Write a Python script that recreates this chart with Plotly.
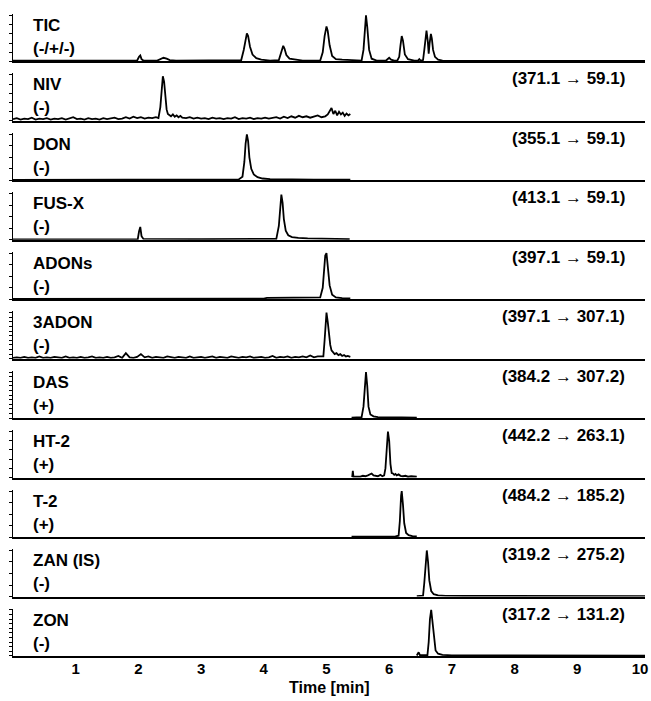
import plotly.graph_objects as go
from plotly.subplots import make_subplots

# ---------------- data ----------------
NAMES = ["TIC", "NIV", "DON", "FUS-X", "ADONs", "3ADON", "DAS", "HT-2", "T-2", "ZAN (IS)", "ZON"]
MODES = ["(-/+/-)", "(-)", "(-)", "(-)", "(-)", "(-)", "(+)", "(+)", "(+)", "(-)", "(-)"]
TRANSITIONS = ["", "(371.1 \u2192 59.1)", "(355.1 \u2192 59.1)", "(413.1 \u2192 59.1)",
               "(397.1 \u2192 59.1)", "(397.1 \u2192 307.1)", "(384.2 \u2192 307.2)",
               "(442.2 \u2192 263.1)", "(484.2 \u2192 185.2)", "(319.2 \u2192 275.2)",
               "(317.2 \u2192 131.2)"]
X_TICKS = [1, 2, 3, 4, 5, 6, 7, 8, 9, 10]

TIC_T = [0.00, 0.50, 1.00, 1.50, 1.98, 2.01, 2.03, 2.05, 2.08, 2.30, 2.36, 2.40, 2.45, 2.50,
         2.60, 3.00, 3.50, 3.64, 3.68, 3.71, 3.73, 3.75, 3.78, 3.82, 3.88, 3.96, 4.10, 4.24,
         4.27, 4.29, 4.31, 4.33, 4.36, 4.41, 4.50, 4.62, 4.90, 4.94, 4.97, 5.00, 5.02, 5.05,
         5.09, 5.15, 5.25, 5.40, 5.56, 5.59, 5.61, 5.63, 5.65, 5.68, 5.72, 5.80, 5.95, 5.98,
         6.00, 6.03, 6.08, 6.13, 6.16, 6.18, 6.20, 6.22, 6.25, 6.30, 6.40, 6.46, 6.48, 6.50,
         6.54, 6.56, 6.58, 6.595, 6.615, 6.63, 6.645, 6.665, 6.68, 6.70, 6.73, 6.78, 6.85,
         7.00, 8.00, 9.00, 10.08]
TIC_Y = [0.015, 0.02, 0.015, 0.02, 0.02, 0.10, 0.13, 0.05, 0.02, 0.02, 0.05, 0.08, 0.06, 0.03,
         0.02, 0.02, 0.02, 0.03, 0.25, 0.52, 0.61, 0.55, 0.32, 0.15, 0.07, 0.04, 0.02, 0.03,
         0.18, 0.30, 0.34, 0.28, 0.14, 0.06, 0.04, 0.02, 0.02, 0.20, 0.55, 0.76, 0.66, 0.35,
         0.12, 0.05, 0.04, 0.03, 0.02, 0.25, 0.70, 1.00, 0.75, 0.25, 0.06, 0.02, 0.02, 0.06,
         0.08, 0.04, 0.02, 0.02, 0.10, 0.35, 0.55, 0.45, 0.15, 0.05, 0.02, 0.02, 0.05, 0.02,
         0.03, 0.25, 0.58, 0.67, 0.45, 0.17, 0.40, 0.60, 0.50, 0.25, 0.10, 0.04, 0.02,
         0.01, 0.01, 0.01, 0.01]

NIV_T = [0.00, 0.06, 0.12, 0.18, 0.24, 0.30, 0.36, 0.42, 0.48, 0.54,
         0.60, 0.66, 0.72, 0.78, 0.84, 0.90, 0.96, 1.02, 1.08, 1.14,
         1.20, 1.26, 1.32, 1.38, 1.44, 1.50, 1.56, 1.62, 1.68, 1.74,
         1.80, 1.86, 1.92, 1.98, 2.04, 2.10, 2.16, 2.22, 2.28,
         2.32, 2.35, 2.37, 2.39, 2.41, 2.43, 2.45, 2.47, 2.49,
         2.52, 2.55, 2.58, 2.61, 2.64, 2.67, 2.70,
         2.76, 2.82, 2.88, 2.94, 3.00, 3.06, 3.12, 3.18, 3.24, 3.30,
         3.36, 3.42, 3.48, 3.54, 3.60, 3.66, 3.72, 3.78, 3.84, 3.90,
         3.96, 4.02, 4.08, 4.14, 4.20, 4.26, 4.32, 4.38, 4.44, 4.50,
         4.56, 4.62, 4.68, 4.74, 4.80, 4.86, 4.92, 4.98,
         5.02, 5.05, 5.08, 5.11, 5.14, 5.17, 5.20, 5.23, 5.26, 5.29, 5.32, 5.35, 5.38]
NIV_Y = [0.04, 0.06, 0.03, 0.05, 0.04, 0.07, 0.03, 0.05, 0.04, 0.06,
         0.03, 0.05, 0.04, 0.06, 0.03, 0.05, 0.08, 0.04, 0.05, 0.03,
         0.06, 0.04, 0.05, 0.03, 0.06, 0.04, 0.05, 0.07, 0.04, 0.05,
         0.08, 0.05, 0.09, 0.06, 0.08, 0.05, 0.07, 0.06, 0.08,
         0.06, 0.30, 0.70, 0.97, 0.85, 0.50, 0.25, 0.15, 0.13,
         0.10, 0.14, 0.09, 0.12, 0.08, 0.11, 0.07,
         0.06, 0.08, 0.05, 0.07, 0.05, 0.06, 0.04, 0.07, 0.05, 0.06,
         0.04, 0.06, 0.05, 0.08, 0.04, 0.06, 0.05, 0.07, 0.04, 0.06,
         0.05, 0.07, 0.05, 0.06, 0.08, 0.05, 0.09, 0.06, 0.10, 0.07,
         0.11, 0.08, 0.10, 0.07, 0.09, 0.12, 0.08, 0.10,
         0.14, 0.20, 0.28, 0.15, 0.22, 0.12, 0.20, 0.14, 0.18, 0.11, 0.16, 0.12, 0.15]

DON_T = [0.00, 1.00, 2.00, 3.00, 3.60, 3.66, 3.69, 3.71, 3.73, 3.75, 3.77, 3.80, 3.84, 3.90,
         3.98, 4.10, 4.30, 4.80, 5.38]
DON_Y = [0.01, 0.015, 0.01, 0.015, 0.02, 0.08, 0.40, 0.80, 1.00, 0.85, 0.50, 0.25, 0.13, 0.07,
         0.04, 0.025, 0.02, 0.015, 0.015]

FUSX_T = [0.00, 1.00, 1.99, 2.01, 2.03, 2.05, 2.08, 3.00, 4.00, 4.20, 4.24, 4.26, 4.28, 4.30,
          4.32, 4.35, 4.39, 4.45, 4.55, 4.70, 5.00, 5.37]
FUSX_Y = [0.01, 0.015, 0.015, 0.18, 0.28, 0.08, 0.02, 0.015, 0.015, 0.02, 0.30, 0.75, 0.98, 0.80,
          0.45, 0.20, 0.10, 0.06, 0.04, 0.03, 0.02, 0.015]

ADONS_T = [0.00, 2.00, 4.00, 4.05, 4.30, 4.60, 4.85, 4.90, 4.94, 4.96, 4.98, 5.00, 5.02, 5.05,
           5.09, 5.15, 5.25, 5.38]
ADONS_Y = [0.01, 0.01, 0.015, 0.03, 0.035, 0.03, 0.03, 0.04, 0.25, 0.65, 0.95, 1.00, 0.70, 0.30,
           0.10, 0.04, 0.025, 0.02]

ADON3_T = [0.00, 0.06, 0.12, 0.18, 0.24, 0.30, 0.36, 0.42, 0.48, 0.54,
           0.60, 0.66, 0.72, 0.78, 0.84, 0.90, 0.96, 1.02, 1.08, 1.14,
           1.20, 1.26, 1.32, 1.38, 1.44, 1.50, 1.56, 1.62, 1.68, 1.74,
           1.80, 1.86, 1.92, 1.98, 2.04, 2.10, 2.16, 2.22, 2.28, 2.34,
           2.40, 2.46, 2.52, 2.58, 2.64, 2.70, 2.76, 2.82, 2.88, 2.94,
           3.00, 3.06, 3.12, 3.18, 3.24, 3.30, 3.36, 3.42, 3.48, 3.54,
           3.60, 3.66, 3.72, 3.78, 3.84, 3.90, 3.96, 4.02, 4.08, 4.14,
           4.20, 4.26, 4.32, 4.38, 4.44, 4.50, 4.56, 4.62, 4.68, 4.74,
           4.80, 4.86, 4.92,
           4.95, 4.97, 4.99, 5.00, 5.02, 5.04, 5.06, 5.08, 5.10, 5.13, 5.16, 5.19, 5.22, 5.25,
           5.28, 5.31, 5.34, 5.38]
ADON3_Y = [0.02, 0.03, 0.02, 0.04, 0.02, 0.03, 0.02, 0.05, 0.02, 0.03,
           0.02, 0.04, 0.03, 0.02, 0.05, 0.02, 0.03, 0.02, 0.04, 0.02,
           0.03, 0.05, 0.02, 0.03, 0.02, 0.04, 0.02, 0.03, 0.06, 0.02,
           0.12, 0.03, 0.02, 0.04, 0.10, 0.03, 0.05, 0.02, 0.04, 0.03,
           0.02, 0.05, 0.03, 0.02, 0.04, 0.03, 0.02, 0.05, 0.02, 0.03,
           0.04, 0.02, 0.03, 0.05, 0.02, 0.04, 0.03, 0.02, 0.05, 0.03,
           0.02, 0.04, 0.03, 0.05, 0.02, 0.03, 0.04, 0.02, 0.03, 0.06,
           0.02, 0.04, 0.03, 0.05, 0.02, 0.04, 0.03, 0.05, 0.03, 0.07,
           0.03, 0.05, 0.04,
           0.05, 0.40, 0.90, 1.00, 0.80, 0.45, 0.30, 0.18, 0.14, 0.10, 0.12, 0.08, 0.10, 0.06,
           0.08, 0.05, 0.06, 0.04]

DAS_T = [5.40, 5.50, 5.56, 5.59, 5.61, 5.63, 5.65, 5.67, 5.70, 5.75, 5.82, 6.00, 6.20, 6.44]
DAS_Y = [0.01, 0.015, 0.02, 0.25, 0.75, 1.00, 0.70, 0.25, 0.08, 0.04, 0.025, 0.015, 0.015, 0.01]

HT2_T = [5.41, 5.42, 5.43, 5.46, 5.50, 5.54, 5.58, 5.62, 5.66, 5.69, 5.72, 5.75, 5.78, 5.82,
         5.86, 5.89, 5.92, 5.94, 5.96, 5.98, 6.00, 6.02, 6.04, 6.06, 6.08, 6.10, 6.12, 6.15,
         6.18, 6.22, 6.26, 6.30, 6.35, 6.40, 6.44]
HT2_Y = [0.01, 0.15, 0.02, 0.02, 0.03, 0.02, 0.04, 0.03, 0.05, 0.08, 0.09, 0.05, 0.04, 0.03,
         0.06, 0.03, 0.05, 0.20, 0.60, 1.00, 0.80, 0.30, 0.10, 0.09, 0.06, 0.08, 0.05, 0.07,
         0.04, 0.03, 0.04, 0.02, 0.03, 0.02, 0.02]

T2_T = [5.40, 5.80, 6.10, 6.15, 6.17, 6.19, 6.20, 6.22, 6.24, 6.27, 6.31, 6.37, 6.44]
T2_Y = [0.01, 0.01, 0.015, 0.03, 0.35, 0.90, 1.00, 0.70, 0.30, 0.09, 0.04, 0.02, 0.015]

ZAN_T = [6.44, 6.50, 6.54, 6.56, 6.58, 6.60, 6.62, 6.64, 6.67, 6.71, 6.78, 6.90, 7.20, 8.00,
         9.00, 10.08]
ZAN_Y = [0.01, 0.015, 0.02, 0.30, 0.80, 1.00, 0.75, 0.35, 0.12, 0.05, 0.025, 0.015, 0.012, 0.01,
         0.01, 0.01]

ZON_T = [6.44, 6.46, 6.47, 6.49, 6.55, 6.61, 6.63, 6.65, 6.67, 6.69, 6.71, 6.74, 6.78, 6.85,
         7.00, 7.50, 8.50, 10.08]
ZON_Y = [0.01, 0.06, 0.08, 0.02, 0.015, 0.02, 0.30, 0.80, 1.00, 0.75, 0.35, 0.12, 0.05, 0.025,
         0.015, 0.012, 0.01, 0.01]

SERIES = [(TIC_T, TIC_Y), (NIV_T, NIV_Y), (DON_T, DON_Y), (FUSX_T, FUSX_Y),
          (ADONS_T, ADONS_Y), (ADON3_T, ADON3_Y), (DAS_T, DAS_Y), (HT2_T, HT2_Y),
          (T2_T, T2_Y), (ZAN_T, ZAN_Y), (ZON_T, ZON_Y)]
for t, y in SERIES:
    assert len(t) == len(y), (len(t), len(y))

# ---------------- styling / layout ----------------
W, H = 651, 701
ML, MR, MT, MB = 13, 6, 14, 45
PLOT_H = H - MT - MB
PLOT_W = W - ML - MR
GAP = 12
N = len(SERIES)
PANEL_H = (PLOT_H - GAP * (N - 1)) / N
FONT = "Liberation Sans, Arial, sans-serif"
Y_TICK_STEPS = [0.2, 0.2, 0.25, 0.25, 0.25, 0.1, 0.1, 0.2, 0.25, 0.25, 0.1]

fig = make_subplots(rows=N, cols=1, shared_xaxes=True, vertical_spacing=GAP / PLOT_H)

for i, (t, y) in enumerate(SERIES):
    fig.add_trace(go.Scatter(x=t, y=y, mode="lines",
                             line=dict(color="black", width=1.8),
                             showlegend=False, hoverinfo="skip"),
                  row=i + 1, col=1)
    step = Y_TICK_STEPS[i]
    fig.update_yaxes(range=[0, 1.03], showline=True, linecolor="black", linewidth=1.2,
                     ticks="outside", ticklen=3, tickwidth=1, tickcolor="black",
                     tick0=0, dtick=step, showticklabels=False, showgrid=False,
                     zeroline=False, automargin=False, row=i + 1, col=1)
    fig.update_xaxes(range=[0, 10.08], showline=True, linecolor="black", linewidth=2,
                     showgrid=False, zeroline=False, ticks="", automargin=False,
                     showticklabels=(i == N - 1), row=i + 1, col=1)

    xr = "x domain" if i == 0 else f"x{i + 1} domain"
    yr = "y domain" if i == 0 else f"y{i + 1} domain"
    fig.add_annotation(text=f"<b>{NAMES[i]}</b>", xref=xr, yref=yr,
                       x=18 / PLOT_W, y=1 - 11.5 / PANEL_H, xanchor="left", yanchor="middle",
                       showarrow=False, font=dict(family=FONT, size=17, color="black"))
    fig.add_annotation(text=f"<b>{MODES[i]}</b>", xref=xr, yref=yr,
                       x=18 / PLOT_W, y=1 - 34.5 / PANEL_H, xanchor="left", yanchor="middle",
                       showarrow=False, font=dict(family=FONT, size=17, color="black"))
    if TRANSITIONS[i]:
        fig.add_annotation(text=f"<b>{TRANSITIONS[i]}</b>", xref=xr, yref=yr,
                           x=614 / PLOT_W, y=1 - 5.5 / PANEL_H, xanchor="right",
                           yanchor="middle", showarrow=False,
                           font=dict(family=FONT, size=17, color="black"))

fig.update_xaxes(tickvals=X_TICKS, ticktext=[f"<b>{v}</b>" for v in X_TICKS],
                 tickfont=dict(family=FONT, size=15, color="black"),
                 ticklabelstandoff=-2, ticklabeloverflow="allow", row=N, col=1)

fig.add_annotation(text="<b>Time [min]</b>", xref="paper", yref="paper", x=0.5,
                   y=-31 / PLOT_H, xanchor="center", yanchor="middle", showarrow=False,
                   font=dict(family=FONT, size=16, color="black"))

fig.update_layout(template="none", width=W, height=H,
                  margin=dict(l=ML, r=MR, t=MT, b=MB, autoexpand=False),
                  paper_bgcolor="white", plot_bgcolor="white",
                  font=dict(family=FONT, color="black"))

fig.write_html("out.html",
               config={"displayModeBar": False, "staticPlot": True},
               post_script="document.body.style.margin='0px';"
                           "document.body.style.overflow='hidden';")
